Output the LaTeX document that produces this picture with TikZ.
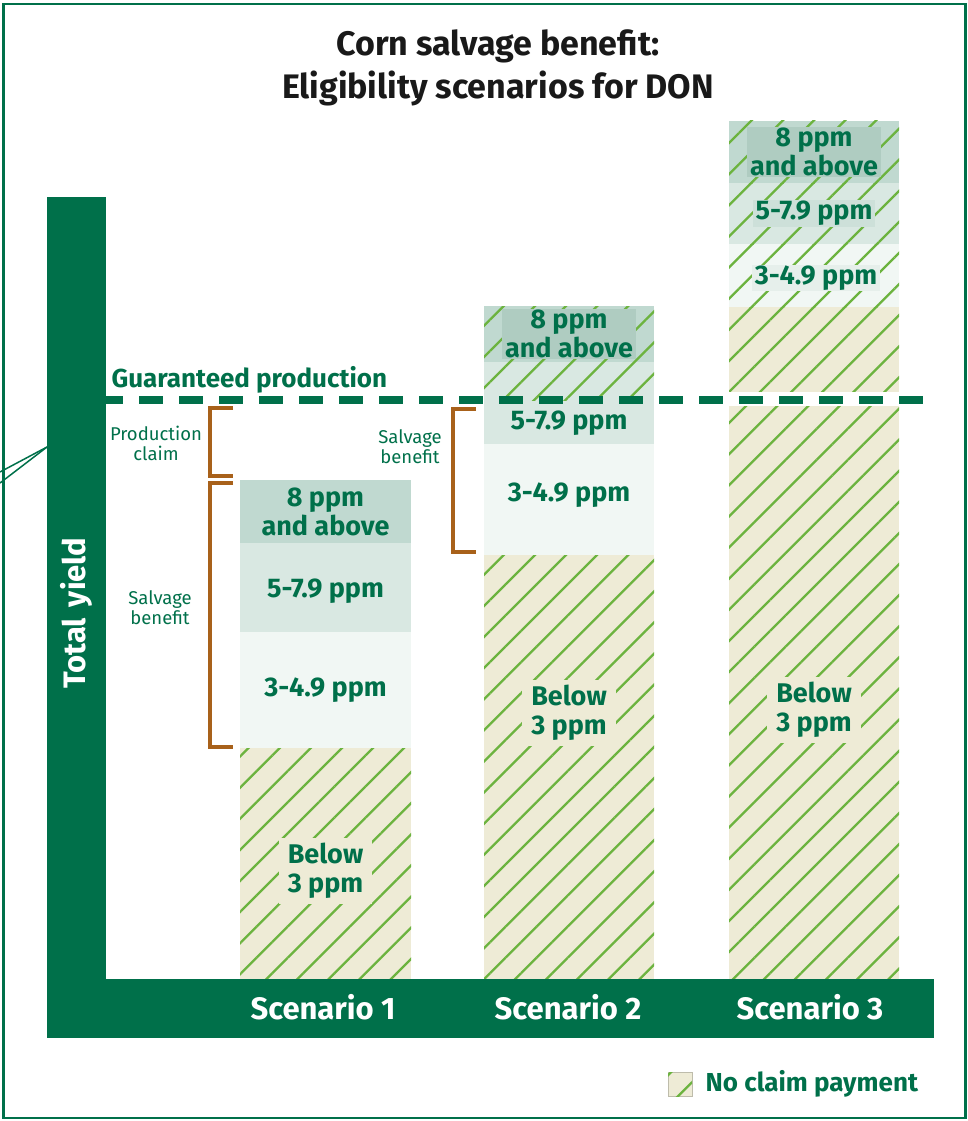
\documentclass[tikz,border=0pt]{standalone}
\usepackage{fontspec}
\setmainfont{Fira Sans}
\usepackage{xcolor}
\usepackage{tikz}
\usetikzlibrary{positioning,patterns.meta}
\definecolor{dongreen}{RGB}{0,112,74}
\definecolor{ppmhigh}{RGB}{192,217,208}
\definecolor{ppmhighbox}{RGB}{175,204,193}
\definecolor{ppmmid}{RGB}{217,232,226}
\definecolor{ppmmidbox}{RGB}{205,224,217}
\definecolor{ppmlow}{RGB}{241,247,244}
\definecolor{ppmlowbox}{RGB}{230,239,235}
\definecolor{beige}{RGB}{238,235,214}
\definecolor{hatch}{RGB}{108,179,63}
\definecolor{brackbrown}{RGB}{168,97,26}

\begin{document}
\begin{tikzpicture}[
   x=1pt, y=-1pt,
   seg/.style = {minimum width=170pt, inner sep=0pt, outer sep=0pt, anchor=south},
   hatchfill/.style = {pattern={Lines[angle=45, distance=22pt, line width=2.3pt]},
                       pattern color=hatch},
   nopay/.style = {postaction={hatchfill}},
   lbl/.style = {text=dongreen, align=center,
                 font=\bfseries\fontsize{27}{29}\selectfont},
   tag/.style = {lbl, inner xsep=3pt, inner ysep=1pt},
   low/.style = {lbl, fill=beige, inner xsep=9pt, inner ysep=5pt},
   side/.style = {text=dongreen, align=center, font=\fontsize{18.5}{20}\selectfont},
   scen/.style = {text=white, font=\bfseries\fontsize{31}{34}\selectfont},
   brk/.style = {draw=brackbrown, line width=4.5pt, miter limit=4}
]
\useasboundingbox (0,0) rectangle (968,1121);
\draw[dongreen, line width=2.5pt] (3.5,4) rectangle (965.5,1118);
\draw[dongreen, line width=1.5pt] (0,472) -- (47,447);
\draw[dongreen, line width=1.5pt] (0,483) -- (47,447);

\node[font=\bfseries\fontsize{34}{43}\selectfont, text=black!90, align=center]
   (title) at (498,68) {Corn salvage benefit:\\Eligibility scenarios for DON};

\node[seg, minimum width=171pt, fill=beige, minimum height=231pt, nopay] (base1) at (325.5,979) {};
\node[seg, minimum width=171pt, fill=ppmlow,  minimum height=116pt, above=0pt of base1] (low1)  {};
\node[seg, minimum width=171pt, fill=ppmmid,  minimum height=89pt,  above=0pt of low1]  (mid1)  {};
\node[seg, minimum width=171pt, fill=ppmhigh, minimum height=63pt,  above=0pt of mid1]  (high1) {};

\node[seg, fill=beige, minimum height=424pt, nopay] (base2) at (569,979) {};
\node[seg, fill=ppmlow,  minimum height=111pt, above=0pt of base2] (low2)  {};
\node[seg, fill=ppmmid,  minimum height=82pt,  above=0pt of low2]  (mid2)  {};
\node[seg, fill=ppmhigh, minimum height=56pt,  above=0pt of mid2]  (high2) {};

\node[seg, fill=beige, minimum height=672pt, nopay] (base3) at (814,979) {};
\node[seg, fill=ppmlow,  minimum height=63pt, nopay, above=0pt of base3] (low3)  {};
\node[seg, fill=ppmmid,  minimum height=61pt, nopay, above=0pt of low3]  (mid3)  {};
\node[seg, fill=ppmhigh, minimum height=62pt, nopay, above=0pt of mid3]  (high3) {};

\coordinate (gp) at (106,400);
\coordinate (ge) at (930,400);
\path[hatchfill] (high2.north west) rectangle (mid2.east |- gp);

\node[lbl] at (high1) {8 ppm\\and above};
\node[lbl] at (325.5,591) {5-7.9 ppm};
\node[lbl] at (low1) {3-4.9 ppm};
\node[low] at (325.5,871) {Below\\3 ppm};

\node[tag, fill=ppmhighbox] at (high2) {8 ppm\\and above};
\node[lbl] at (569,423) {5-7.9 ppm};
\node[lbl] at (569,495) {3-4.9 ppm};
\node[low] at (569,713) {Below\\3 ppm};

\node[tag, fill=ppmhighbox] at (high3) {8 ppm\\and above};
\node[tag, fill=ppmmidbox] at (mid3) {5-7.9 ppm};
\node[tag, fill=ppmlowbox] at (816,278) {3-4.9 ppm};
\node[low] at (814,710) {Below\\3 ppm};

\fill[white] (base3.west |- 0,392) rectangle (base3.east |- 0,406);
\draw[dongreen, line width=8pt, dash pattern=on 24pt off 16pt, dash phase=7pt] (gp) -- (ge);
\node[anchor=west, text=dongreen, font=\bfseries\fontsize{26}{30}\selectfont]
   (guar) at (108,380) {Guaranteed production};

\draw[brk] (233,408) -- (210,408) -- (210,476) -- (233,476);
\draw[brk] (233,483) -- (210,483) -- (210,747) -- (233,747);
\draw[brk] (476,409) -- (453,409) -- (453,552) -- (476,552);
\node[side] (pclaim) at (156,443) {Production\\claim};
\node[side] (salv1) at (160,608) {Salvage\\benefit};
\node[side] (salv2) at (410,447) {Salvage\\benefit};

\fill[dongreen] (47,197) rectangle (106,1038);
\fill[dongreen] (47,979) rectangle (934,1038);
\node[rotate=90, scen] (ylab) at (76,613) {Total\hspace{0.35em}yield};
\node[scen] (sc1) at (323,1007) {Scenario 1};
\node[scen] (sc2) at (568,1007) {Scenario 2};
\node[scen] (sc3) at (810,1007) {Scenario 3};

\node[minimum size=24pt, inner sep=0pt, fill=beige, draw=beige!80!black, nopay] (key) at (680,1084) {};
\node[right=10pt of key, text=dongreen, font=\bfseries\fontsize{26}{30}\selectfont] (keylbl) {No claim payment};
\end{tikzpicture}
\end{document}
